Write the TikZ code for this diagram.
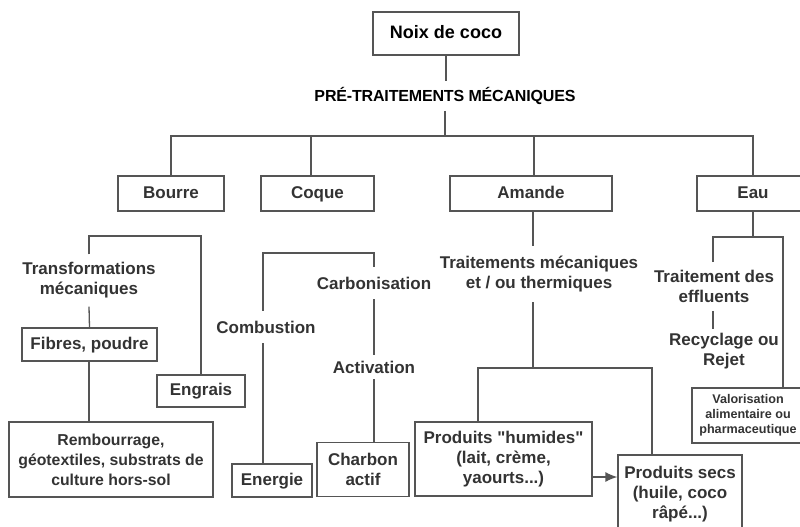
\documentclass[tikz,border=0pt]{standalone}
\usepackage{fontspec}
\setmainfont{Liberation Sans}[Ligatures=TeXOff]
\usetikzlibrary{arrows.meta}
\definecolor{txt}{HTML}{333333}
\definecolor{ln}{HTML}{555555}
\tikzset{
  box/.style={draw=ln, line width=1.3pt, inner sep=0pt, align=center, text=txt,
    font=\bfseries\fontsize{17}{20}\selectfont},
  one/.style={text height=12.5pt, text depth=3.5pt},
  lbl/.style={inner sep=2pt, align=center, text=txt, font=\bfseries\fontsize{17}{20}\selectfont},
  conn/.style={draw=ln, line width=1.3pt},
}
\begin{document}
\begin{tikzpicture}[x=1pt,y=-1pt]
\clip (0,0) rectangle (800,527);
\fill[white] (0,0) rectangle (800,527);
% top
\node[box, one, minimum width=146pt, minimum height=43pt, text=black, font=\bfseries\fontsize{18}{20}\selectfont] (noix) at (446,33.5) {Noix de coco};
\node[lbl, inner sep=6pt, font=\bfseries\fontsize{16}{20}\selectfont, text=black] (pre) at (445,96) {\addfontfeatures{LetterSpace=-1}PRÉ-TRAITEMENTS MÉCANIQUES};
\coordinate (h) at (445,136);
% level 1
\node[box, one, minimum width=106pt, minimum height=35pt] (bourre) at (171,193.5) {Bourre};
\node[box, one, minimum width=113pt, minimum height=35pt] (coque) at (317.5,193.5) {Coque};
\node[box, one, minimum width=162pt, minimum height=35pt] (amande) at (531,193.5) {Amande};
\node[box, one, minimum width=112pt, minimum height=35pt] (eau) at (753,193.5) {Eau};
% Bourre subtree
\node[lbl, inner sep=8pt] (transf) at (89,280.5) {Transformations\\mécaniques};
\node[box, one, minimum width=135pt, minimum height=33pt] (fibres) at (89.5,344.5) {Fibres, poudre};
\node[box, one, minimum width=88pt, minimum height=32pt] (engrais) at (201,391) {Engrais};
\node[box, minimum width=204pt, minimum height=75pt, font=\bfseries\fontsize{15.8}{20}\selectfont] (remb) at (111,459.5) {Rembourrage,\\géotextiles, substrats de\\culture hors-sol};
\coordinate (bt) at (89,236);
% Coque subtree
\node[lbl, inner sep=10pt] (combu) at (266,327) {Combustion};
\node[lbl, inner sep=10pt] (carbo) at (374,283) {Carbonisation};
\node[lbl, inner sep=6pt] (activ) at (374,367) {Activation};
\node[box, one, minimum width=80pt, minimum height=33pt] (energie) at (272,480.5) {Energie};
\node[box, minimum width=92pt, minimum height=54pt] (charbon) at (363,469.5) {Charbon\\actif};
\coordinate (ct) at (263,253);
\coordinate (cr) at (374,253);
% Amande subtree
\node[lbl, inner sep=10pt] (trait) at (539,274) {Traitements mécaniques\\et / ou thermiques};
\node[box, minimum width=177pt, minimum height=74pt] (humides) at (503.5,459) {Produits "humides"\\(lait, crème,\\yaourts...)};
\node[box, minimum width=124pt, minimum height=78pt] (secs) at (680,494) {Produits secs\\(huile, coco\\râpé...)};
\coordinate (a0) at (533,368);
\coordinate (a1) at (478,368);
\coordinate (a2) at (652,368);
\coordinate (ar) at (592,477);
% Eau subtree
\node[lbl, inner sep=8pt] (efflu) at (714,286.5) {Traitement des\\effluents};
\node[lbl, inner sep=4pt] (recyc) at (724,351.5) {Recyclage ou\\Rejet};
\node[box, minimum width=112pt, minimum height=55pt, font=\bfseries\fontsize{12.6}{15}\selectfont] (valo) at (748,415.5) {Valorisation\\alimentaire ou\\pharmaceutique};
\coordinate (e0) at (753,237);
\coordinate (e1) at (713,237);
\coordinate (e2) at (783,237);
% connectors
\draw[conn] (noix.south) -- (noix.south |- pre.north);
\draw[conn] (pre.south) -- (h);
\draw[conn] (bourre.north) |- (h);
\draw[conn] (h) -| (eau.north);
\draw[conn] ([xshift=-6.5pt]coque.north) -- ([xshift=-6.5pt]coque.north |- h);
\draw[conn] ([xshift=3pt]amande.north) -- ([xshift=3pt]amande.north |- h);
% bourre
\draw[conn] (transf.north) -- (bt) -| (engrais.north);
\draw[conn] (transf.south) -- (fibres.north);
\draw[conn] (fibres.south -| bt) -- (bt |- remb.north);
% coque
\draw[conn] (combu.north -| ct) -- (ct) -- (cr) -- (carbo.north);
\draw[conn] (combu.south -| ct) -- (ct |- energie.north);
\draw[conn] (carbo.south) -- (activ.north);
\draw[conn] (activ.south) -- (activ.south |- charbon.north);
% amande
\draw[conn] (amande.south -| a0) -- (a0 |- trait.north);
\draw[conn] (trait.south -| a0) -- (a0);
\draw[conn] (a1 |- humides.north) -- (a1) -- (a2) -- (a2 |- secs.north);
\draw[conn, -{Latex[length=12pt,width=10pt]}] (ar) -- (ar -| secs.west);
% eau
\draw[conn] (eau.south -| e0) -- (e0);
\draw[conn] (efflu.north -| e1) -- (e1) -- (e2) -- (e2 |- valo.north);
\draw[conn] (efflu.south -| e1) -- (e1 |- recyc.north);
\end{tikzpicture}
\end{document}
